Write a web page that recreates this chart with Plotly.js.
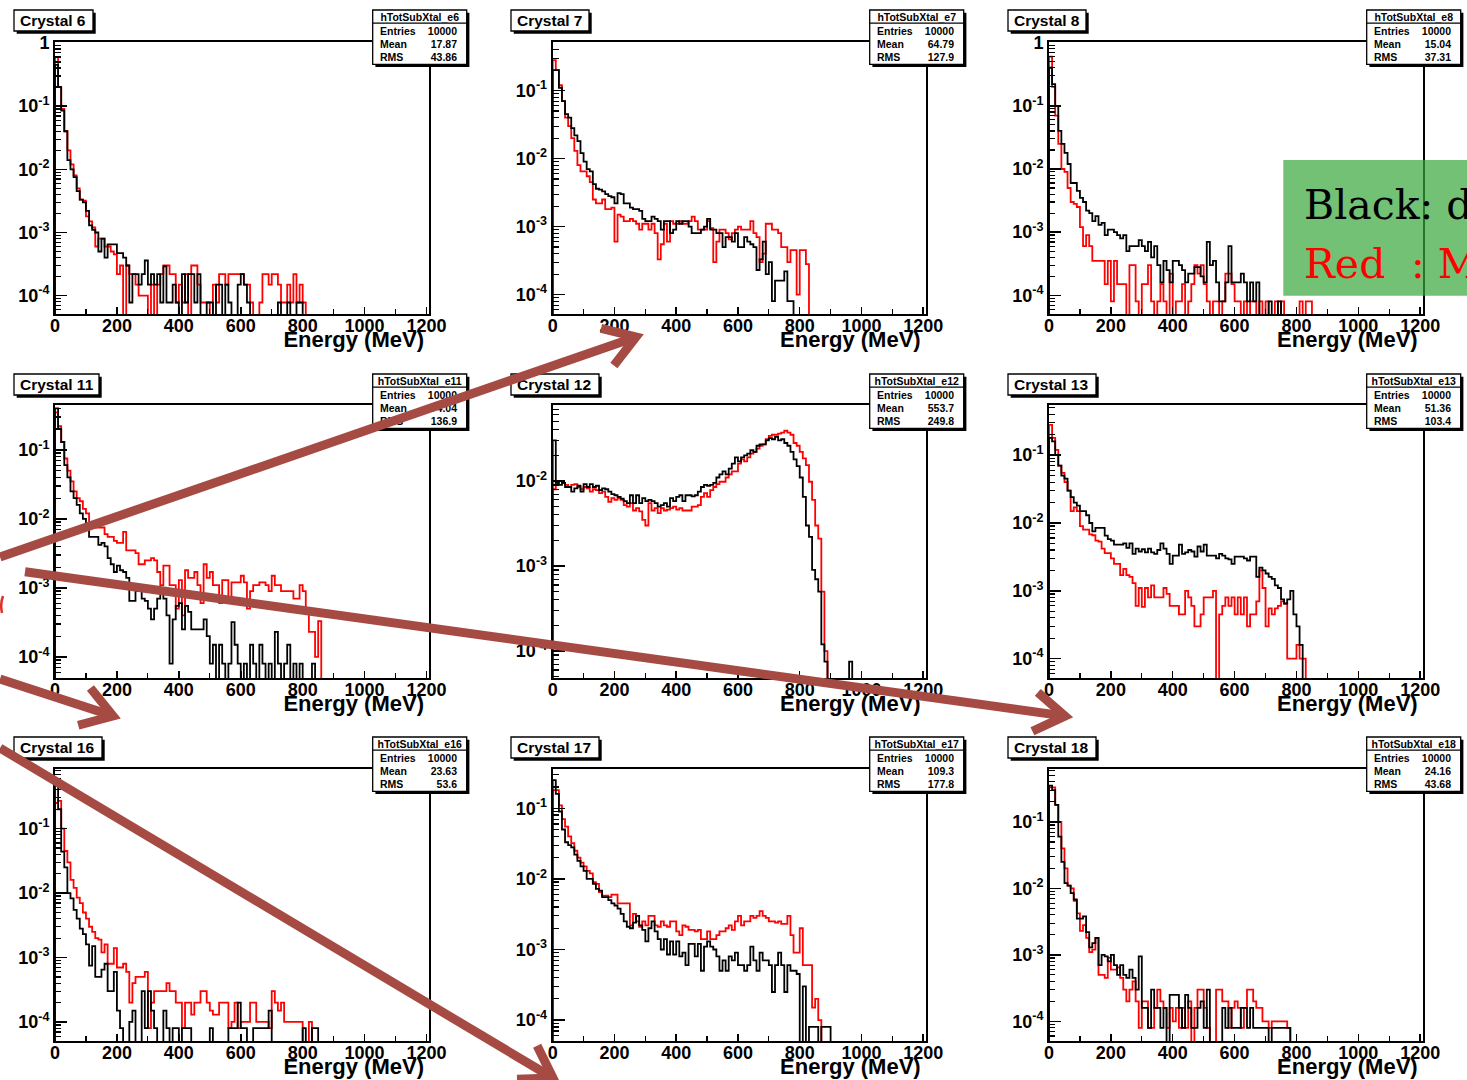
<!DOCTYPE html>
<html>
<head>
<meta charset="utf-8">
<script src="https://cdn.plot.ly/plotly-3.0.1.min.js"></script>
<style>
html,body{margin:0;padding:0;background:#ffffff;}
#chart{width:1467px;height:1080px;}
</style>
</head>
<body>
<div id="chart"></div>
<script>
// ---------------- DATA ----------------
const binWidth = 10; // MeV per bin
const crystalNames = ['Crystal 6','Crystal 7','Crystal 8','Crystal 11','Crystal 12','Crystal 13','Crystal 16','Crystal 17','Crystal 18'];
const histNames = ['hTotSubXtal_e6','hTotSubXtal_e7','hTotSubXtal_e8','hTotSubXtal_e11','hTotSubXtal_e12','hTotSubXtal_e13','hTotSubXtal_e16','hTotSubXtal_e17','hTotSubXtal_e18'];
const statEntries = ['10000','10000','10000','10000','10000','10000','10000','10000','10000'];
const statMean = ['17.87','64.79','15.04','74.04','553.7','51.36','23.63','109.3','24.16'];
const statRMS = ['43.86','127.9','37.31','136.9','249.8','103.4','53.6','177.8','43.68'];
const xTitle = 'Energy (MeV)';
const legendLines = ['Black: d', 'Red', ': M'];

const c6Black = [0.45,0.2,0.085,0.04,0.014,0.01,0.0075,0.0045,0.0033,0.003,
 0.0022,0.0013,0.0011,0.001,0.0005,0.0008,0.0004,0.00065,0.00065,0.00065,
 0.00047,0.00047,0.0004,0.0003,0.000078,0.00022,0.00022,0.00015,0.00022,0.00036,
 0.00015,0.00022,0.00015,0.00022,0.000078,0.00029,0.000078,0.000078,0.00015,0.000078,
 0,0.00022,0.000078,0.00022,0.00022,0.000078,0.00022,0,0,0.000078,
 0.000078,0,0.00015,0.00015,0,0.00015,0.000078,0,0,0.00015,
 0.00022,0.00015,0.000078,0,0,0,0,0,0,0,
 0,0,0.000078,0,0,0.000078,0,0,0.000078,0.000078];
const c6Red = [0.6,0.2,0.09,0.04,0.02,0.012,0.008,0.005,0.0033,0.0032,
 0.0018,0.0015,0.0012,0.0006,0.0008,0.0008,0.0006,0.0006,0.0005,0.00045,
 0.00022,0.0003,0,0.0003,0.00022,0.00022,0.00015,0.0001,0.0001,0.0001,
 0,0.00015,0,0.00015,0.00022,0.0003,0.0003,0.00022,0.00022,0.000078,
 0.00015,0.000078,0.00022,0,0.0003,0.0003,0.00015,0.000078,0.000078,0.000078,
 0,0.00015,0.000078,0.00022,0.00022,0.00015,0.00022,0.00022,0.00022,0.00022,
 0.00022,0.00015,0.00015,0.000078,0,0,0.000078,0.00022,0.00022,0.00015,
 0.00022,0.00022,0.00015,0.000078,0.000078,0.00015,0.000078,0.00022,0.000078,0.00015,
 0.000078];

const c7Black = [0.2,0.2,0.11,0.07,0.045,0.04,0.028,0.022,0.018,0.012,
 0.009,0.007,0.0065,0.0042,0.0036,0.0035,0.0033,0.003,0.0028,0.0027,
 0.0022,0.0031,0.003,0.0022,0.0022,0.0019,0.0018,0.0018,0.0017,0.0013,
 0.0012,0.0012,0.0014,0.0013,0.0012,0.0009,0.0012,0.0012,0.0008,0.0009,
 0.0012,0.0011,0.0012,0.0012,0.001,0.0008,0.0008,0.0008,0.0009,0.001,
 0.0013,0.0009,0.0009,0.0008,0.0008,0.0005,0.0007,0.0007,0.0006,0.0008,
 0.0005,0.0005,0.0007,0.0006,0.00055,0.0005,0.00023,0.00033,0.0006,0.0002,
 0.0003,0.00008,0.00016,0.00016,0.00016,0.00022,0.00008,0.00008];
const c7Red = [0.28,0.2,0.12,0.07,0.04,0.03,0.02,0.013,0.008,0.0065,
 0.0065,0.0055,0.0045,0.0025,0.0022,0.0022,0.0025,0.0018,0.0018,0.0019,
 0.0006,0.0015,0.0014,0.0012,0.0012,0.0013,0.0012,0.0011,0.0009,0.0011,
 0.0011,0.0009,0.0011,0.0008,0.00033,0.00055,0.0011,0.0006,0.0012,0.0011,
 0.0011,0.0012,0.0011,0.0011,0.0012,0.0014,0.0012,0.0009,0.0009,0.0009,
 0.0012,0.00095,0.0003,0.0006,0.0009,0.0009,0.0008,0.00065,0.0008,0.0009,
 0.001,0.0009,0.0009,0.0009,0.0012,0.0008,0.0007,0.0003,0.0004,0.0011,
 0.0011,0.0009,0.0009,0.0008,0.0005,0.0005,0.0003,0.00045,0.00045,0.0001,
 0.00045,0.00045,0.00028];

const c8Black = [0.4,0.22,0.1,0.04,0.025,0.018,0.012,0.006,0.006,0.0045,
 0.0035,0.003,0.0022,0.002,0.0015,0.0018,0.0013,0.0014,0.0009,0.0011,
 0.0011,0.001,0.0009,0.0008,0.0009,0.0005,0.0006,0.0006,0.0006,0.00075,
 0.0006,0.0005,0.0007,0.0004,0.0006,0.0003,0.00016,0.00035,0.00025,0.00016,
 0.00035,0.00035,0.0003,0.00025,0.00016,0.00022,0.00022,0.00028,0.00028,0.0002,
 0.00016,0.0007,0.0003,0.00035,0.00016,0.00008,0.00008,0.00016,0.0006,0.00016,
 0.00016,0.00016,0.00022,0.00016,0.00008,0.00016,0.00008,0.00016,0,0,
 0,0.00008,0,0,0.00008];
const c8Red = [0.6,0.2,0.07,0.025,0.01,0.009,0.005,0.003,0.0028,0.0025,
 0.0012,0.0006,0.0009,0.0006,0.00035,0.00035,0.00035,0.00035,0.00015,0.00035,
 0.00008,0.00035,0.00015,0.00015,0.00015,0,0.0003,0.0003,0.00008,0,
 0.00015,0.00015,0.0003,0.00008,0,0.00008,0.00015,0.00008,0,0.00022,
 0,0.00008,0.00008,0.00015,0,0.00008,0.00015,0.0003,0.00022,0.0003,
 0.00015,0.00008,0,0.00008,0.00008,0,0.00008,0.00022,0.00022,0.00015,
 0.00008,0.00008,0,0.00008,0,0.00008,0.00008,0,0.00008,0,
 0.00008,0,0,0.00008,0,0.00008,0,0,0,0,
 0,0.00008,0,0.00008,0.00008];

const c11Black = [0.4,0.2,0.13,0.06,0.04,0.025,0.02,0.016,0.012,0.01,
 0.008,0.0055,0.0055,0.0055,0.0042,0.0045,0.004,0.0027,0.0022,0.0017,
 0.0021,0.0018,0.0017,0.0014,0.00065,0.00065,0.0009,0.0009,0.0007,0.00065,
 0.0005,0.00035,0.0005,0.0007,0.00095,0.0007,0.0004,0.00008,0.00035,0.00055,
 0.0006,0.00025,0.00055,0.00045,0.00025,0.00025,0.00025,0.00025,0.00035,0.0002,
 0.00008,0.00015,0,0.00015,0.00008,0,0.00008,0.00032,0.00015,0.00008,
 0,0.00008,0,0.00015,0.00008,0,0.00015,0.00008,0,0.00008,
 0,0.00023,0.00008,0,0.00008,0.00015,0,0.00008,0,0.00008,
 0,0,0,0.00008];
const c11Red = [0.35,0.22,0.13,0.075,0.05,0.035,0.025,0.02,0.018,0.014,
 0.012,0.009,0.009,0.0075,0.0075,0.0075,0.006,0.0055,0.0055,0.0048,
 0.0045,0.0045,0.0065,0.0035,0.0035,0.0035,0.0032,0.0022,0.0022,0.0025,
 0.0025,0.0027,0.0025,0.0017,0.0011,0.0021,0.0021,0.0011,0.0011,0.0005,
 0.0013,0.0004,0.0018,0.0014,0.0014,0.0017,0.0011,0.0006,0.0022,0.0014,
 0.0017,0.0011,0.0011,0.0006,0.0013,0.0013,0.0007,0.0012,0.0012,0.0012,
 0.0015,0.0012,0.0005,0.0009,0.0011,0.0011,0.0012,0.0012,0.0011,0.0009,
 0.0015,0.0011,0.0011,0.0009,0.0009,0.0009,0.0009,0.0007,0.0007,0.0011,
 0.0009,0.0005,0.00023,0.00023,0.0001,0.00033];

const c12Black = [0.03,0.0095,0.009,0.0095,0.0085,0.0085,0.0075,0.0082,0.0088,0.0075,
 0.0092,0.0085,0.0092,0.0085,0.0088,0.0078,0.0082,0.008,0.0075,0.007,
 0.0068,0.0065,0.0062,0.0058,0.0055,0.0068,0.0055,0.0068,0.0055,0.0063,
 0.0058,0.006,0.0058,0.0055,0.005,0.0052,0.0055,0.005,0.0063,0.0058,
 0.0065,0.0068,0.0058,0.0068,0.0068,0.0066,0.0068,0.0075,0.0085,0.009,
 0.0088,0.009,0.0095,0.011,0.012,0.013,0.012,0.014,0.016,0.019,
 0.017,0.019,0.02,0.021,0.023,0.022,0.026,0.027,0.027,0.03,
 0.032,0.031,0.033,0.03,0.031,0.028,0.026,0.022,0.018,0.015,
 0.011,0.0065,0.003,0.0022,0.0009,0.0007,0.0005,0.00012,0.000075,0,
 0,0,0,0,0,0,0.000075];
const c12Red = [0.008,0.0095,0.01,0.0095,0.009,0.0085,0.009,0.0092,0.0085,0.008,
 0.0085,0.0082,0.0075,0.008,0.0078,0.0072,0.0075,0.0065,0.0057,0.0063,
 0.006,0.0063,0.006,0.0052,0.005,0.0055,0.0045,0.0048,0.0044,0.0035,
 0.003,0.0055,0.0045,0.0048,0.0042,0.0048,0.0045,0.0046,0.0048,0.005,
 0.0046,0.0048,0.0045,0.0045,0.0045,0.005,0.005,0.0052,0.0065,0.0072,
 0.0065,0.0078,0.0085,0.0092,0.0098,0.0098,0.011,0.012,0.013,0.013,
 0.016,0.018,0.017,0.019,0.021,0.022,0.024,0.026,0.027,0.031,
 0.034,0.035,0.035,0.036,0.037,0.039,0.037,0.035,0.028,0.026,
 0.022,0.0185,0.0154,0.0098,0.006,0.003,0.0021,0.0005,0.0001];

const c13Black = [0.18,0.16,0.1,0.07,0.05,0.045,0.03,0.024,0.02,0.018,
 0.015,0.015,0.013,0.01,0.0075,0.0085,0.0085,0.0085,0.0065,0.0058,
 0.0055,0.0048,0.0048,0.0048,0.005,0.0043,0.005,0.0035,0.0042,0.0038,
 0.0041,0.0037,0.0042,0.0037,0.0035,0.004,0.005,0.0042,0.0035,0.0025,
 0.0033,0.0033,0.0048,0.0035,0.0037,0.004,0.0038,0.0032,0.0045,0.0038,
 0.0048,0.0033,0.0033,0.0033,0.003,0.0035,0.0033,0.003,0.0029,0.0025,
 0.0032,0.0032,0.0032,0.003,0.0028,0.0032,0.0032,0.0016,0.0022,0.002,
 0.0018,0.0016,0.0015,0.0012,0.0011,0.00075,0.00065,0.00075,0.001,0.00045,
 0.0003,0.00016];
const c13Red = [0.28,0.18,0.12,0.07,0.055,0.04,0.03,0.015,0.017,0.015,
 0.009,0.008,0.008,0.0068,0.0066,0.0055,0.0053,0.0042,0.0036,0.0036,
 0.003,0.0025,0.0025,0.0017,0.0021,0.0017,0.0016,0.0013,0.0006,0.0011,
 0.00058,0.0011,0.0008,0.0012,0.0008,0.0008,0.0008,0.0011,0.0009,0.0006,
 0.0006,0.0006,0.00045,0.00045,0.001,0.0008,0.0006,0.0003,0.0003,0.00045,
 0.0008,0.0008,0.0008,0.001,0,0.00045,0.0006,0.0008,0.0006,0.0008,
 0.00045,0.0008,0.00045,0.0008,0.0003,0.00045,0.00045,0.0007,0.002,0.0011,
 0.0003,0.00055,0.00045,0.00055,0.0006,0.0007,0.00065,0.0001,0.0001,0.0001,
 0.00016,0.0001,0.0001];

const c16Black = [0.5,0.2,0.044,0.025,0.01,0.0083,0.0055,0.004,0.0028,0.0023,
 0.0016,0.00075,0.0015,0.0005,0.0005,0.00065,0.0008,0.0003,0.0003,0.0006,
 0.00015,0.00008,0,0,0.0001,0.00015,0,0,0.0003,0.00008,
 0.0003,0.00015,0.00008,0,0,0.00015,0.00008,0,0.00008,0.00008,
 0,0.00008,0.00008,0.00008,0,0,0,0,0,0,
 0.00008,0,0,0,0,0,0.00008,0.00008,0.00008,0.0002,
 0.00008,0.00008,0,0,0.00008,0.00008,0.00008,0.00008,0.00008,0.00015,
 0,0,0,0,0,0,0,0,0,0,
 0.00008,0,0,0.00008,0.00008];
const c16Red = [0.25,0.27,0.1,0.045,0.03,0.016,0.012,0.0085,0.007,0.005,
 0.004,0.003,0.0025,0.002,0.0019,0.0012,0.0016,0.0008,0.0008,0.0014,
 0.0007,0.0007,0.0008,0.0006,0.0002,0.0004,0.0005,0.0005,0.0005,0.0006,
 0.00008,0.0002,0.0003,0.0003,0.0003,0.0003,0.0004,0.0003,0.0003,0.0002,
 0.0002,0.00008,0.0002,0.0002,0.00013,0.0002,0.0002,0.0003,0.0003,0.0002,
 0.00015,0.00013,0.00013,0.0002,0.0002,0.0002,0.00008,0.0001,0.0002,0.00008,
 0.0001,0.0001,0.0001,0.0002,0.0002,0.0001,0.0001,0.0001,0.0001,0.00008,
 0.0003,0.0002,0.00015,0.0002,0.0001,0.0001,0.0001,0.0001,0.0001,0.0001,
 0,0,0.0001];

const c17Black = [0.25,0.16,0.09,0.05,0.033,0.03,0.028,0.022,0.018,0.015,
 0.013,0.01,0.01,0.0085,0.0072,0.0068,0.0055,0.0055,0.005,0.0045,
 0.0042,0.0038,0.0032,0.0025,0.0021,0.002,0.0024,0.003,0.0022,0.0019,
 0.0013,0.002,0.0025,0.0018,0.0014,0.001,0.0014,0.00085,0.0013,0.00085,
 0.0013,0.0008,0.0009,0.0006,0.0012,0.0012,0.0008,0.0012,0.0005,0.0011,
 0.0013,0.0011,0.001,0.0008,0.0005,0.0007,0.0005,0.0008,0.0007,0.0009,
 0.0006,0.0006,0.0005,0.0006,0.0011,0.0007,0.0005,0.0009,0.0007,0.0007,
 0.0006,0.00025,0.0006,0.0009,0.0006,0.00025,0.0006,0.0005,0.0005,0.00045,
 0,0.0003,0,0.00008,0.00008,0.00008,0,0.00008,0.00008,0.00008];
const c17Red = [0.18,0.18,0.11,0.07,0.055,0.04,0.032,0.025,0.02,0.017,
 0.015,0.013,0.012,0.009,0.0085,0.0065,0.0058,0.0058,0.0055,0.006,
 0.006,0.0045,0.0045,0.0045,0.0045,0.0022,0.0032,0.0025,0.0021,0.0025,
 0.0022,0.003,0.003,0.0022,0.0021,0.0025,0.0022,0.0021,0.0025,0.0025,
 0.0018,0.0016,0.0022,0.0021,0.0019,0.0019,0.0018,0.0019,0.0014,0.0014,
 0.0018,0.0014,0.0014,0.0016,0.0018,0.0018,0.002,0.0022,0.0019,0.0025,
 0.003,0.0022,0.0025,0.0025,0.003,0.0028,0.003,0.0035,0.003,0.0028,
 0.0025,0.0025,0.0024,0.0025,0.0023,0.0023,0.003,0.0016,0.0009,0.0009,
 0.002,0.0006,0.0006,0.0006,0.00015,0.0002,0.0001];

const c18Black = [0.35,0.3,0.18,0.06,0.025,0.012,0.011,0.0085,0.0068,0.0035,
 0.0035,0.0038,0.0022,0.0013,0.0015,0.0018,0.0007,0.001,0.00095,0.0008,
 0.001,0.0007,0.0005,0.0007,0.0005,0.00045,0.0006,0.00045,0.0003,0.00095,
 0.00016,0.00016,0.00008,0.0003,0.00016,0.00016,0.00008,0.00016,0,0.00025,
 0.00025,0.00025,0.00016,0.00008,0.00025,0.00016,0.00008,0.00008,0.00016,0.0002,
 0.00008,0.0003,0,0,0,0,0.00016,0.00008,0.00016,0.00008,
 0.00008,0.00008,0.00016,0.00016,0.00008,0.00016,0.00008,0.00008,0.00008,0.00008,
 0.00008,0,0.00008,0.00008,0.00008,0.00008,0.00008,0.00008];
const c18Red = [0.33,0.33,0.18,0.1,0.04,0.02,0.011,0.01,0.0065,0.0042,
 0.0023,0.0028,0.0018,0.0011,0.0012,0.0018,0.0005,0.0005,0.00045,0.0009,
 0.0006,0.0006,0.00065,0.00045,0.0003,0.0002,0.0003,0.0004,0.0002,0.00008,
 0.0002,0.0002,0.00008,0.00008,0.00016,0.0003,0.0002,0.00016,0.00008,0.00016,
 0.0001,0.00016,0.00008,0.00016,0.00008,0.0002,0,0.00016,0.0003,0.0003,
 0.00016,0.00008,0,0,0.0003,0.0003,0.0002,0.0002,0.00008,0.00016,
 0.0002,0.00016,0.00008,0.00016,0.0003,0.0003,0.0002,0.00016,0.00016,0.0001,
 0.0001,0.00008,0.0001,0.0001,0.0001,0.0001,0.0001,0.00008];

const blackSeries = [c6Black,c7Black,c8Black,c11Black,c12Black,c13Black,c16Black,c17Black,c18Black];
const redSeries = [c6Red,c7Red,c8Red,c11Red,c12Red,c13Red,c16Red,c17Red,c18Red];

// ---------------- LAYOUT (pixels) ----------------
const W = 1467, H = 1080;
const colLeft = [55, 552.7, 1049], colRight = [429, 925.7, 1422.7];
const rowTop = [42.3, 405, 768.7], rowBottom = [314.3, 678.3, 1041.3];
const boxColOff = [0, 497, 994], boxRowOff = [0, 364, 727];
const yRanges = [[-4.295,0.01],[-4.29,-0.29],[-4.3,0.005],[-4.31,-0.35],[-4.32,-1.106],[-4.29,-0.26],[-4.3,-0.07],[-4.3,-0.44],[-4.3,-0.2]];
const titleWidths = [79,78,78,85,88,88,88,88,88];
const FLOOR = 1e-8;
const FONT = 'Liberation Sans, Arial, Helvetica, sans-serif';
const arrowColor = '#a64b43';

const px = x => x / W;
const py = y => 1 - y / H;

const traces = [];
const layout = {
  width: W, height: H,
  margin: {l:0, r:0, t:0, b:0},
  paper_bgcolor: '#ffffff', plot_bgcolor: '#ffffff',
  showlegend: false,
  shapes: [], annotations: []
};

function stepTrace(vals, color, idx) {
  const xs = [0], ys = [FLOOR];
  vals.forEach((v, i) => { xs.push(i * binWidth); ys.push(v > 0 ? v : FLOOR); });
  xs.push(vals.length * binWidth); ys.push(FLOOR);
  const s = idx === 0 ? '' : String(idx + 1);
  return {x: xs, y: ys, type: 'scatter', mode: 'lines',
    line: {shape: 'hv', color: color, width: 1.8},
    xaxis: 'x' + s, yaxis: 'y' + s, hoverinfo: 'skip'};
}

function rect(x0, y0, x1, y1, fill, lineColor, lineWidth) {
  layout.shapes.push({type: 'rect', xref: 'paper', yref: 'paper', layer: 'above',
    x0: px(x0), x1: px(x1), y0: py(y1), y1: py(y0),
    fillcolor: fill, line: {color: lineColor || 'rgba(0,0,0,0)', width: lineWidth || 0}});
}
function hline(x0, x1, y, w) {
  layout.shapes.push({type: 'line', xref: 'paper', yref: 'paper', layer: 'above',
    x0: px(x0), x1: px(x1), y0: py(y), y1: py(y), line: {color: '#000', width: w}});
}
// text drawn as the label of an invisible box, so that later shapes (arrows) cover it
function label(str, x0, x1, yc, pos, size, color, weight, family) {
  layout.shapes.push({type: 'rect', xref: 'paper', yref: 'paper', layer: 'above',
    x0: px(x0), x1: px(x1), y0: py(yc + size * 0.6), y1: py(yc - size * 0.6),
    fillcolor: 'rgba(0,0,0,0)', line: {width: 0, color: 'rgba(0,0,0,0)'},
    label: {text: str, textposition: pos, padding: 0,
      font: {family: family || FONT, size: size, color: color || '#000', weight: weight || 'bold'}}});
}
function segPath(pts, w) {
  const d = pts.map((p, i) => (i ? 'L' : 'M') + px(p[0]).toFixed(5) + ',' + py(p[1]).toFixed(5)).join(' ');
  layout.shapes.push({type: 'path', xref: 'paper', yref: 'paper', layer: 'above', path: d,
    line: {color: arrowColor, width: w}});
}
function arrow(x0, y0, x1, y1) {
  const w = 9, len = 36, half = 33 * Math.PI / 180;
  const back = Math.atan2(y0 - y1, x0 - x1);
  segPath([[x0, y0], [x1 + 3 * Math.cos(back), y1 + 3 * Math.sin(back)]], w);
  segPath([[x1 + len * Math.cos(back + half), y1 + len * Math.sin(back + half)], [x1, y1],
           [x1 + len * Math.cos(back - half), y1 + len * Math.sin(back - half)]], w);
}

for (let k = 0; k < 9; k++) {
  const r = Math.floor(k / 3), c = k % 3;
  const s = k === 0 ? '' : String(k + 1);
  const tickfont = {family: FONT, size: 18, color: '#000', weight: 'bold'};
  // decade ticks and 2..9 minor ticks inside the y range
  const majV = [], majT = [], minV = [];
  for (let d = Math.ceil(yRanges[k][0]) - 1; d <= Math.floor(yRanges[k][1]); d++) {
    if (d >= yRanges[k][0]) { majV.push(Math.pow(10, d)); majT.push(d === 0 ? '1' : '10<sup>' + d + '</sup>'); }
    for (let m = 2; m <= 9; m++) minV.push(m * Math.pow(10, d));
  }
  layout['xaxis' + s] = {
    domain: [px(colLeft[c]), px(colRight[c])], anchor: 'y' + s,
    range: [0, 1208], showgrid: false, zeroline: false,
    showline: true, mirror: true, linecolor: '#000', linewidth: 2,
    ticks: 'inside', ticklen: 7, tickwidth: 1.5, tickcolor: '#000',
    tick0: 0, dtick: 200, ticklabelstandoff: -6,
    minor: {ticks: 'inside', ticklen: 5, tickwidth: 1.2, tickcolor: '#000', dtick: 100},
    tickfont: tickfont, fixedrange: true
  };
  layout['yaxis' + s] = {
    domain: [py(rowBottom[r]), py(rowTop[r])], anchor: 'x' + s,
    type: 'log', range: yRanges[k], showgrid: false, zeroline: false,
    showline: true, mirror: true, linecolor: '#000', linewidth: 2,
    ticks: 'inside', ticklen: 12, tickwidth: 1.5, tickcolor: '#000',
    tickmode: 'array', tickvals: majV, ticktext: majT,
    minor: {ticks: 'inside', ticklen: 6, tickwidth: 1.2, tickcolor: '#000', tickmode: 'array', tickvals: minV},
    tickfont: tickfont, fixedrange: true
  };
  traces.push(stepTrace(redSeries[k], '#ff0000', k));
  traces.push(stepTrace(blackSeries[k], '#000000', k));

  const bx = boxColOff[c], by = boxRowOff[r];
  // title box with shadow
  const tw = titleWidths[k];
  rect(14 + bx + 2.7, 10 + by + 2.7, 14 + bx + tw + 2.7, 31 + by + 2.7, '#000');
  rect(14 + bx, 10 + by, 14 + bx + tw, 31 + by, '#fff', '#000', 1.3);
  label(crystalNames[k], 17 + bx, 14 + bx + tw, 19.3 + by, 'middle left', 15.5);
  // stats box with shadow
  rect(372.7 + bx + 2.7, 10 + by + 2.7, 466.7 + bx + 2.7, 64.3 + by + 2.7, '#000');
  rect(372.7 + bx, 10 + by, 466.7 + bx, 64.3 + by, '#fff', '#000', 1.3);
  hline(372.7 + bx, 466.7 + bx, 23.2 + by, 1.3);
  label(histNames[k], 374 + bx, 465.4 + bx, 16 + by, 'middle center', 10.5);
  const rowsY = [30.5, 43.5, 56.5];
  const rowsL = ['Entries', 'Mean', 'RMS'];
  const rowsV = [statEntries[k], statMean[k], statRMS[k]];
  for (let j = 0; j < 3; j++) {
    label(rowsL[j], 377 + bx, 460 + bx, rowsY[j] + by, 'middle left', 10.5);
    label(rowsV[j], 377 + bx, 460 + bx, rowsY[j] + by, 'middle right', 10.5);
  }
  // x axis title
  label(xTitle, colRight[c] - 200, colRight[c] - 2, rowBottom[r] + 23.5, 'middle right', 22);
}

// small red glyph fragment at the left edge
layout.shapes.push({type: 'path', xref: 'paper', yref: 'paper', layer: 'above',
  path: 'M' + px(3) + ',' + py(596) + ' Q' + px(0) + ',' + py(604) + ' ' + px(2) + ',' + py(613),
  line: {color: '#e0302a', width: 2.5}});

// green legend box (semi transparent)
rect(1283.3, 160, 1475, 295.7, 'rgba(56,166,59,0.7)');
label(legendLines[0], 1301, 1560, 201.5, 'middle left', 41, '#000', 'normal', 'DejaVu Serif, serif');
label(legendLines[1], 1301, 1400, 260.5, 'middle left', 41, '#ff0000', 'normal', 'DejaVu Serif, serif');
label(legendLines[2], 1408, 1560, 260.5, 'middle left', 41, '#ff0000', 'normal', 'DejaVu Serif, serif');

// hand-drawn arrows on top
arrow(0, 557, 636, 337);
arrow(25, 571.7, 1065, 716);
arrow(0, 679, 113, 716);
arrow(0, 748, 553, 1078);

Plotly.newPlot('chart', traces, layout, {staticPlot: true, displayModeBar: false});
</script>
</body>
</html>
